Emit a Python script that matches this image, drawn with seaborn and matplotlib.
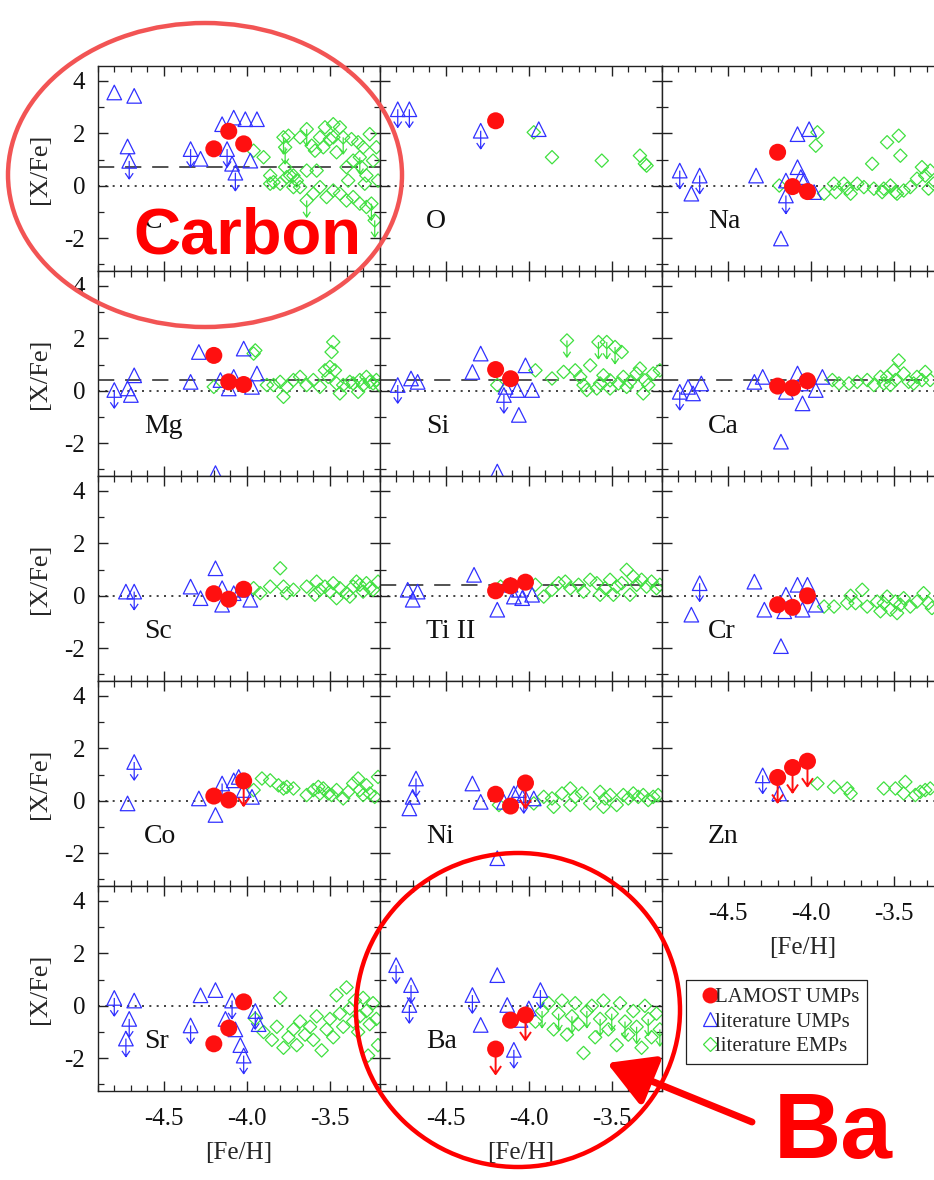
import matplotlib
matplotlib.use("Agg")
import matplotlib.pyplot as plt
import seaborn as sns
import pandas as pd
from matplotlib.path import Path
from matplotlib.patches import Ellipse, FancyArrowPatch
from matplotlib.lines import Line2D
from matplotlib.ticker import MultipleLocator

# ---------------------------------------------------------------------------
# Data: [Fe/H] of the three LAMOST UMP stars and [X/Fe] per element
# tuples are (xfe, upper_limit) for LAMOST, (feh, xfe, upper_limit) otherwise
# ---------------------------------------------------------------------------
LAMOST_FEH = [-4.20, -4.11, -4.02]

C_LAMOST = [(1.41, 0), (2.08, 0), (1.60, 0)]
C_UMP = [(-4.80, 3.56, 0), (-4.68, 3.43, 0), (-4.72, 1.50, 0), (-4.71, 0.95, 1),
         (-4.34, 1.40, 1), (-4.28, 1.03, 0), (-4.15, 2.35, 0), (-4.08, 2.60, 0),
         (-4.01, 2.54, 0), (-3.94, 2.54, 0), (-4.12, 1.40, 1), (-4.09, 0.84, 0),
         (-4.07, 0.50, 1), (-3.98, 0.96, 0)]
C_EMP = [(-3.96, 1.34, 0), (-3.90, 1.09, 0), (-3.86, 0.39, 0), (-3.84, 0.14, 0),
         (-3.78, 1.85, 1), (-3.77, 1.47, 1), (-3.75, 1.91, 0), (-3.77, 0.71, 0),
         (-3.74, 0.39, 0), (-3.72, 0.39, 0), (-3.70, 0.20, 0), (-3.68, 1.85, 0),
         (-3.64, 2.16, 1), (-3.64, 0.58, 0), (-3.61, 1.53, 0), (-3.59, 1.34, 0),
         (-3.58, 0.58, 0), (-3.56, 1.85, 0), (-3.54, 1.47, 0), (-3.53, 2.23, 0),
         (-3.50, 1.78, 0), (-3.48, 2.35, 0), (-3.48, 1.85, 0), (-3.46, 1.28, 0),
         (-3.44, 2.23, 0), (-3.42, 1.85, 1), (-3.40, 0.71, 0), (-3.39, 0.20, 0),
         (-3.37, 1.78, 0), (-3.36, 0.96, 0), (-3.33, 1.66, 0), (-3.32, 1.09, 1),
         (-3.31, 0.71, 0), (-3.30, 1.47, 0), (-3.29, 0.08, 0), (-3.28, 0.39, 0),
         (-3.26, 1.97, 0), (-3.25, -0.68, 1), (-3.24, 0.96, 0), (-3.22, 1.47, 0),
         (-3.21, 0.20, 0), (-3.48, -0.18, 0), (-3.52, -0.43, 0), (-3.56, -0.05, 0),
         (-3.60, -0.30, 0), (-3.64, -0.56, 1), (-3.68, -0.05, 0), (-3.72, -0.05, 0),
         (-3.76, 0.33, 0), (-3.80, 0.08, 0), (-3.86, 0.08, 0), (-3.44, -0.30, 0),
         (-3.40, -0.56, 0), (-3.36, -0.43, 0), (-3.32, -0.68, 0), (-3.28, -0.81, 0),
         (-3.23, -1.32, 1)]

O_LAMOST = [(2.48, 0), None, None]
O_UMP = [(-4.79, 2.92, 1), (-4.72, 2.92, 1), (-4.29, 2.10, 1), (-3.94, 2.16, 0)]
O_EMP = [(-3.97, 2.04, 0), (-3.86, 1.09, 0), (-3.56, 0.96, 0), (-3.33, 1.15, 0),
         (-3.30, 0.84, 0), (-3.29, 0.77, 0)]

Na_LAMOST = [(1.28, 0), (-0.03, 0), (-0.22, 0)]
Na_UMP = [(-4.79, 0.58, 1), (-4.67, 0.39, 1), (-4.72, -0.30, 0), (-4.33, 0.39, 0),
          (-4.18, -2.01, 0), (-4.15, -0.37, 1), (-4.15, 0.20, 0), (-4.08, 1.97, 0),
          (-4.01, 2.16, 0), (-4.08, 0.71, 0), (-4.06, 0.33, 0), (-3.98, -0.24, 0),
          (-4.04, 0.20, 0)]
Na_EMP = [(-4.19, 0.01, 0), (-3.96, 2.04, 0), (-3.97, 1.53, 0), (-3.92, -0.30, 0),
          (-3.86, 0.08, 0), (-3.85, -0.24, 0), (-3.80, 0.08, 0), (-3.78, -0.11, 0),
          (-3.76, -0.30, 0), (-3.72, 0.08, 0), (-3.68, -0.05, 0), (-3.63, 0.84, 0),
          (-3.62, -0.11, 0), (-3.57, -0.24, 0), (-3.56, -0.11, 0), (-3.54, 1.66, 0),
          (-3.52, 0.01, 0), (-3.49, -0.24, 0), (-3.48, -0.30, 0), (-3.47, 1.91, 0),
          (-3.46, 1.15, 0), (-3.44, -0.18, 0), (-3.40, -0.05, 0), (-3.36, 0.27, 0),
          (-3.33, 0.71, 0), (-3.31, 0.39, 0), (-3.29, -0.11, 0), (-3.28, 0.58, 0),
          (-3.26, 0.08, 0)]

Mg_LAMOST = [(1.35, 0), (0.34, 0), (0.24, 0)]
Mg_UMP = [(-4.80, 0.03, 1), (-4.72, 0.09, 0), (-4.70, -0.16, 0), (-4.68, 0.59, 0),
          (-4.34, 0.34, 0), (-4.29, 1.48, 0), (-4.19, -3.14, 0), (-4.16, 0.41, 0),
          (-4.11, 0.09, 0), (-4.08, 0.53, 0), (-4.02, 1.61, 0), (-3.97, 0.15, 0),
          (-3.94, 0.66, 0)]
Mg_EMP = [(-4.20, 0.15, 0), (-3.96, 1.42, 0), (-3.95, 1.54, 0), (-3.88, 0.22, 0),
          (-3.84, 0.22, 0), (-3.80, 0.34, 0), (-3.78, -0.23, 0), (-3.76, 0.15, 0),
          (-3.72, 0.41, 0), (-3.68, 0.53, 0), (-3.64, 0.22, 0), (-3.60, 0.41, 0),
          (-3.56, 0.15, 0), (-3.53, 0.78, 0), (-3.51, 0.53, 0), (-3.50, 0.91, 0),
          (-3.49, 1.48, 0), (-3.48, 1.86, 0), (-3.47, 0.78, 0), (-3.46, 0.28, 0),
          (-3.44, -0.10, 0), (-3.42, 0.22, 0), (-3.38, 0.34, 0), (-3.36, 0.28, 0),
          (-3.33, -0.04, 0), (-3.32, 0.41, 0), (-3.30, 0.22, 0), (-3.28, 0.53, 0),
          (-3.26, 0.34, 0), (-3.24, 0.28, 0), (-3.22, 0.41, 0), (-3.20, 0.22, 0)]

Si_LAMOST = [(0.81, 0), (0.46, 0), None]
Si_UMP = [(-4.79, 0.22, 1), (-4.71, 0.47, 0), (-4.67, 0.34, 0), (-4.34, 0.72, 0),
          (-4.29, 1.42, 0), (-4.19, -3.08, 0), (-4.15, -0.16, 1), (-4.14, 0.15, 0),
          (-4.06, -0.92, 0), (-4.07, 0.03, 0), (-4.02, 0.97, 0), (-3.98, 0.03, 0)]
Si_EMP = [(-4.19, 0.22, 0), (-3.96, 0.78, 0), (-3.86, 0.47, 0), (-3.79, 0.72, 0),
          (-3.77, 1.92, 1), (-3.72, 0.78, 0), (-3.69, 0.53, 0), (-3.67, 0.22, 0),
          (-3.63, 0.97, 0), (-3.58, 1.86, 1), (-3.53, 1.86, 1), (-3.48, 1.67, 1),
          (-3.44, 1.48, 0), (-3.57, 0.28, 0), (-3.55, 0.59, 0), (-3.51, 0.40, 0),
          (-3.46, 0.28, 0), (-3.43, 0.53, 0), (-3.39, 0.34, 0), (-3.35, 0.66, 0),
          (-3.33, 0.85, 0), (-3.30, 0.40, 0), (-3.28, 0.22, 0), (-3.25, 0.66, 0),
          (-3.21, 0.78, 0), (-3.65, 0.03, 0), (-3.59, 0.09, 0), (-3.51, 0.09, 0),
          (-3.41, 0.15, 0), (-3.31, -0.10, 0)]

Ca_LAMOST = [(0.18, 0), (0.11, 0), (0.38, 0)]
Ca_UMP = [(-4.79, -0.04, 1), (-4.74, 0.15, 0), (-4.71, -0.10, 0), (-4.66, 0.28, 0),
          (-4.34, 0.34, 0), (-4.29, 0.53, 0), (-4.18, -1.94, 0), (-4.15, -0.04, 0),
          (-4.08, 0.66, 0), (-4.05, -0.48, 0), (-3.97, 0.03, 0), (-3.93, 0.53, 0),
          (-4.06, 0.28, 0)]
Ca_EMP = [(-3.87, 0.41, 0), (-3.83, 0.28, 0), (-3.77, 0.28, 0), (-3.72, 0.34, 0),
          (-3.66, 0.41, 0), (-3.62, 0.22, 0), (-3.58, 0.53, 0), (-3.54, 0.53, 0),
          (-3.52, 0.22, 0), (-3.49, 0.41, 0), (-3.47, 1.16, 0), (-3.44, 0.66, 0),
          (-3.41, 0.34, 0), (-3.38, 0.28, 0), (-3.36, 0.53, 0), (-3.33, 0.41, 0),
          (-3.31, 0.72, 0), (-3.28, 0.41, 0), (-3.56, 0.28, 0), (-3.50, 0.78, 0)]

Sc_LAMOST = [(0.08, 0), (-0.13, 0), (0.25, 0)]
Sc_UMP = [(-4.73, 0.16, 0), (-4.68, 0.16, 1), (-4.34, 0.35, 0), (-4.28, -0.09, 0),
          (-4.19, 1.05, 0), (-4.15, 0.29, 0), (-4.15, -0.34, 0), (-4.08, 0.10, 0),
          (-4.04, 0.23, 0), (-3.98, -0.15, 0)]
Sc_EMP = [(-3.96, 0.29, 0), (-3.92, 0.10, 0), (-3.86, 0.35, 0), (-3.80, 1.05, 0),
          (-3.78, 0.35, 0), (-3.76, 0.10, 0), (-3.72, 0.23, 0), (-3.64, 0.35, 0),
          (-3.58, 0.54, 0), (-3.56, 0.23, 0), (-3.53, 0.35, 0), (-3.50, 0.16, 0),
          (-3.48, 0.48, 0), (-3.44, 0.29, 0), (-3.40, 0.10, 0), (-3.36, 0.35, 0),
          (-3.34, 0.54, 0), (-3.32, 0.42, 0), (-3.30, 0.16, 0), (-3.28, 0.48, 0),
          (-3.26, 0.29, 0), (-3.24, 0.23, 0), (-3.21, 0.54, 0), (-3.59, 0.04, 0),
          (-3.46, -0.09, 0), (-3.38, -0.03, 0)]

Ti_LAMOST = [(0.19, 0), (0.38, 0), (0.52, 0)]
Ti_UMP = [(-4.73, 0.23, 0), (-4.70, -0.15, 0), (-4.67, 0.16, 0), (-4.33, 0.80, 0),
          (-4.19, -0.53, 0), (-4.11, 0.42, 0), (-4.09, -0.03, 0), (-4.04, -0.09, 0),
          (-4.06, 0.23, 0), (-3.98, 0.04, 0)]
Ti_EMP = [(-4.17, 0.35, 0), (-3.96, 0.42, 0), (-3.91, -0.03, 0), (-3.86, 0.23, 0),
          (-3.82, 0.48, 0), (-3.78, 0.54, 0), (-3.75, 0.29, 0), (-3.70, 0.42, 0),
          (-3.67, 0.16, 0), (-3.63, 0.61, 0), (-3.59, 0.48, 0), (-3.57, 0.04, 0),
          (-3.54, 0.29, 0), (-3.51, 0.61, 0), (-3.47, 0.35, 0), (-3.44, 0.48, 0),
          (-3.41, 0.99, 0), (-3.37, 0.73, 0), (-3.35, 0.42, 0), (-3.32, 0.61, 0),
          (-3.29, 0.35, 0), (-3.26, 0.54, 0), (-3.23, 0.29, 0), (-3.21, 0.42, 0),
          (-3.49, 0.04, 0), (-3.39, 0.04, 0)]

Cr_LAMOST = [(-0.34, 0), (-0.44, 0), (0.00, 0)]
Cr_UMP = [(-4.72, -0.72, 0), (-4.67, 0.48, 1), (-4.34, 0.54, 0), (-4.28, -0.53, 0),
          (-4.18, -1.92, 0), (-4.15, 0.04, 0), (-4.08, 0.42, 0), (-4.02, 0.42, 0),
          (-4.16, -0.59, 0), (-4.05, -0.53, 0), (-3.97, -0.34, 0)]
Cr_EMP = [(-3.92, -0.41, 0), (-3.86, -0.41, 0), (-3.78, -0.28, 0), (-3.76, 0.00, 0),
          (-3.73, -0.28, 0), (-3.69, 0.23, 0), (-3.66, -0.41, 0), (-3.60, -0.22, 0),
          (-3.56, -0.28, 0), (-3.54, -0.03, 0), (-3.52, -0.53, 0), (-3.49, -0.22, 0),
          (-3.46, -0.34, 0), (-3.44, -0.09, 0), (-3.40, -0.41, 0), (-3.36, -0.22, 0),
          (-3.32, 0.10, 0), (-3.29, -0.28, 0), (-3.27, -0.47, 0), (-3.58, -0.59, 0),
          (-3.48, -0.66, 0)]

Co_LAMOST = [(0.18, 0), (0.03, 0), (0.76, 1)]
Co_UMP = [(-4.72, -0.10, 0), (-4.68, 1.48, 1), (-4.29, 0.09, 0), (-4.19, -0.54, 0),
          (-4.15, 0.66, 1), (-4.08, 0.78, 0), (-4.05, 0.91, 0), (-4.02, 0.41, 0),
          (-3.97, 0.15, 0)]
Co_EMP = [(-3.96, 0.41, 0), (-3.91, 0.85, 0), (-3.86, 0.78, 0), (-3.81, 0.59, 0),
          (-3.78, 0.47, 0), (-3.76, 0.53, 0), (-3.72, 0.47, 0), (-3.64, 0.22, 0),
          (-3.60, 0.41, 0), (-3.57, 0.53, 0), (-3.56, 0.28, 0), (-3.54, 0.47, 0),
          (-3.51, 0.28, 0), (-3.49, 0.22, 0), (-3.46, 0.41, 0), (-3.42, 0.09, 0),
          (-3.39, 0.34, 0), (-3.36, 0.66, 0), (-3.33, 0.85, 0), (-3.32, 0.41, 0),
          (-3.30, 0.22, 0), (-3.28, 0.59, 0), (-3.26, 0.28, 0), (-3.23, 0.15, 0),
          (-3.21, 0.91, 0)]

Ni_LAMOST = [(0.25, 0), (-0.20, 0), (0.68, 1)]
Ni_UMP = [(-4.72, -0.29, 0), (-4.70, 0.15, 0), (-4.68, 0.85, 1), (-4.34, 0.66, 0),
          (-4.29, -0.04, 0), (-4.19, -2.19, 0), (-4.15, -0.04, 0), (-4.09, 0.28, 0),
          (-4.06, 0.41, 0), (-4.03, 0.22, 1), (-3.97, 0.09, 0)]
Ni_EMP = [(-4.18, -0.16, 0), (-3.97, -0.10, 0), (-3.91, 0.15, 0), (-3.86, 0.09, 0),
          (-3.80, 0.28, 0), (-3.75, 0.47, 0), (-3.72, 0.15, 0), (-3.68, 0.28, 0),
          (-3.63, -0.10, 0), (-3.57, 0.34, 0), (-3.54, 0.09, 0), (-3.51, 0.22, 0),
          (-3.47, -0.16, 0), (-3.43, 0.22, 0), (-3.40, 0.09, 0), (-3.37, 0.28, 0),
          (-3.34, 0.15, 0), (-3.31, 0.22, 0), (-3.28, 0.03, 0), (-3.25, 0.15, 0),
          (-3.22, 0.22, 0), (-3.85, -0.23, 0), (-3.75, -0.16, 0), (-3.55, -0.23, 0)]

Zn_LAMOST = [(0.89, 1), (1.27, 1), (1.51, 1)]
Zn_UMP = [(-4.29, 0.97, 1), (-4.19, 0.28, 0)]
Zn_EMP = [(-3.96, 0.66, 0), (-3.86, 0.53, 0), (-3.78, 0.47, 0), (-3.76, 0.28, 0),
          (-3.56, 0.47, 0), (-3.49, 0.47, 0), (-3.43, 0.72, 0), (-3.44, 0.28, 0),
          (-3.37, 0.22, 0), (-3.34, 0.34, 0), (-3.31, 0.41, 0), (-3.28, 0.47, 0)]

Sr_LAMOST = [(-1.45, 0), (-0.85, 0), (0.15, 0)]
Sr_UMP = [(-4.80, 0.30, 1), (-4.71, -0.50, 1), (-4.73, -1.25, 1), (-4.68, 0.20, 0),
          (-4.34, -0.75, 1), (-4.28, 0.40, 0), (-4.19, 0.60, 0), (-4.09, 0.20, 1),
          (-4.07, -0.90, 0), (-4.04, -1.50, 0), (-4.02, -1.90, 1), (-3.95, -0.20, 1),
          (-3.93, -0.70, 0), (-4.13, -0.50, 0)]
Sr_EMP = [(-3.95, -0.50, 0), (-3.90, -1.00, 0), (-3.85, -1.30, 0), (-3.82, -0.80, 0),
          (-3.80, 0.30, 0), (-3.78, -1.60, 0), (-3.75, -1.20, 0), (-3.72, -0.90, 0),
          (-3.70, -1.50, 0), (-3.68, -0.60, 0), (-3.65, -1.10, 0), (-3.62, -0.80, 0),
          (-3.60, -1.30, 0), (-3.58, -0.40, 0), (-3.55, -1.70, 0), (-3.52, -0.90, 0),
          (-3.50, -0.50, 0), (-3.48, -1.20, 0), (-3.46, 0.40, 0), (-3.44, -0.30, 0),
          (-3.42, -0.80, 0), (-3.40, 0.70, 0), (-3.38, -0.10, 0), (-3.36, -0.60, 0),
          (-3.35, 0.20, 0), (-3.33, -1.00, 0), (-3.32, -0.40, 0), (-3.30, 0.30, 0),
          (-3.28, -0.20, 0), (-3.27, -1.90, 0), (-3.26, -0.70, 0), (-3.24, 0.10, 0),
          (-3.22, -0.50, 0), (-3.21, -1.50, 0)]

Ba_LAMOST = [(-1.65, 1), (-0.55, 0), (-0.35, 1)]
Ba_UMP = [(-4.80, 1.55, 1), (-4.71, 0.79, 1), (-4.72, 0.03, 1), (-4.34, 0.41, 1),
          (-4.29, -0.73, 0), (-4.19, 1.17, 0), (-4.13, 0.03, 0), (-4.09, -1.68, 1),
          (-4.05, -0.54, 0), (-3.93, 0.60, 1), (-4.00, -0.10, 0)]
Ba_EMP = [(-3.96, -0.60, 0), (-3.92, -0.20, 1), (-3.88, 0.10, 0), (-3.85, -0.90, 0),
          (-3.82, -0.30, 1), (-3.80, 0.20, 0), (-3.77, -1.10, 0), (-3.74, -0.40, 1),
          (-3.72, 0.10, 0), (-3.70, -0.70, 0), (-3.67, -1.80, 0), (-3.65, -0.20, 1),
          (-3.62, 0.00, 0), (-3.60, -1.20, 0), (-3.57, -0.50, 1), (-3.55, 0.20, 0),
          (-3.52, -0.90, 0), (-3.50, -0.30, 1), (-3.47, -1.50, 0), (-3.45, 0.10, 0),
          (-3.42, -0.60, 1), (-3.40, -1.10, 0), (-3.37, -0.20, 0), (-3.35, -0.80, 1),
          (-3.32, -1.60, 0), (-3.30, 0.00, 0), (-3.28, -0.50, 1), (-3.26, -1.20, 0),
          (-3.23, -0.30, 0), (-3.21, -0.90, 1)]

# panel grid: (label, LAMOST, literature UMPs, literature EMPs, dashed level)
GRID = [
    [("C", C_LAMOST, C_UMP, C_EMP, 0.7), ("O", O_LAMOST, O_UMP, O_EMP, None),
     ("Na", Na_LAMOST, Na_UMP, Na_EMP, None)],
    [("Mg", Mg_LAMOST, Mg_UMP, Mg_EMP, 0.4), ("Si", Si_LAMOST, Si_UMP, Si_EMP, 0.4),
     ("Ca", Ca_LAMOST, Ca_UMP, Ca_EMP, 0.4)],
    [("Sc", Sc_LAMOST, Sc_UMP, Sc_EMP, None), ("Ti II", Ti_LAMOST, Ti_UMP, Ti_EMP, 0.4),
     ("Cr", Cr_LAMOST, Cr_UMP, Cr_EMP, None)],
    [("Co", Co_LAMOST, Co_UMP, Co_EMP, None), ("Ni", Ni_LAMOST, Ni_UMP, Ni_EMP, None),
     ("Zn", Zn_LAMOST, Zn_UMP, Zn_EMP, None)],
    [("Sr", Sr_LAMOST, Sr_UMP, Sr_EMP, None), ("Ba", Ba_LAMOST, Ba_UMP, Ba_EMP, None),
     None],
]

RED = "#ff1010"
BLUE = "#3030ff"
GREEN = "#40e040"

# ---------------------------------------------------------------------------
sns.set_theme(style="ticks")
plt.rcParams["font.family"] = ["Liberation Serif", "DejaVu Serif"]
plt.rcParams["axes.unicode_minus"] = False
plt.rcParams["axes.linewidth"] = 1.0
plt.rcParams["axes.edgecolor"] = "#222222"

W, H = 934, 1180
fig = plt.figure(figsize=(W / 100, H / 100), dpi=100)

COL_X = [97.7, 379.5, 661.5]
COL_W = 282.0
ROW_Y = [66.0, 271.0, 476.0, 681.0, 886.0]
ROW_H = 205.0

# downward arrow used to flag upper limits
ARROW = Path([(0, 0), (0, -1), (-0.22, -0.68), (0, -1), (0.22, -0.68)],
             [Path.MOVETO, Path.LINETO, Path.MOVETO, Path.LINETO, Path.LINETO])


def add_axes_px(x0, y0, w, h):
    return fig.add_axes([x0 / W, 1 - (y0 + h) / H, w / W, h / H])


def limit_arrows(ax, df, color, size, lw):
    lim = df[df["lim"] == 1]
    if len(lim):
        ax.scatter(lim["feh"], lim["xfe"], marker=ARROW, s=size ** 2,
                   facecolors="none", edgecolors=color, linewidths=lw, zorder=3)


def draw_panel(ax, label, lamost, ump, emp, dashed):
    ax.set_xlim(-4.9, -3.2)
    ax.set_ylim(-3.25, 4.57)
    ax.axhline(0, color="#222222", ls=(0, (1.2, 3.2)), lw=1.2, zorder=1)
    if dashed is not None:
        ax.axhline(dashed, color="#444444", ls=(0, (9, 6)), lw=1.3, zorder=1)

    emp_df = pd.DataFrame(emp, columns=["feh", "xfe", "lim"])
    ump_df = pd.DataFrame(ump, columns=["feh", "xfe", "lim"])
    lam_rows = [(f, v[0], v[1]) for f, v in zip(LAMOST_FEH, lamost) if v is not None]
    lam_df = pd.DataFrame(lam_rows, columns=["feh", "xfe", "lim"])

    sns.scatterplot(data=emp_df, x="feh", y="xfe", ax=ax, marker="D", s=46,
                    facecolor="none", edgecolor=GREEN, linewidth=0.9, zorder=2,
                    legend=False)
    limit_arrows(ax, emp_df, GREEN, 24, 0.9)
    sns.scatterplot(data=ump_df, x="feh", y="xfe", ax=ax, marker="^", s=110,
                    facecolor="none", edgecolor=BLUE, linewidth=0.9, zorder=3,
                    legend=False)
    limit_arrows(ax, ump_df, BLUE, 26, 0.9)
    limit_arrows(ax, lam_df, RED, 36, 1.4)
    sns.scatterplot(data=lam_df, x="feh", y="xfe", ax=ax, marker="o", s=150,
                    color=RED, edgecolor="none", linewidth=0, zorder=4, legend=False)

    ax.text(-4.62, -1.35, label, fontsize=20, ha="left", va="center",
            color="#111111", zorder=5)


def style_axes(ax, xlabels, ylabels):
    ax.xaxis.set_major_locator(MultipleLocator(0.5))
    ax.xaxis.set_minor_locator(MultipleLocator(0.1))
    ax.yaxis.set_major_locator(MultipleLocator(2))
    ax.yaxis.set_minor_locator(MultipleLocator(1))
    ax.tick_params(which="both", direction="in", top=True, right=True,
                   color="#222222", labelsize=18, labelcolor="#111111")
    ax.tick_params(which="major", length=7, width=1.0)
    ax.tick_params(which="minor", length=4, width=0.9)
    ax.tick_params(axis="x", which="major", pad=12)
    ax.tick_params(axis="y", which="major", pad=9)
    ax.set_xlabel("")
    ax.set_ylabel("")
    if xlabels:
        ax.set_xticks([-4.5, -4.0, -3.5])
        ax.set_xticklabels(["-4.5", "-4.0", "-3.5"])
        ax.set_xlabel("[Fe/H]", fontsize=18, labelpad=9)
    else:
        ax.tick_params(labelbottom=False)
    if ylabels:
        ax.set_yticks([-2, 0, 2, 4])
        ax.set_yticklabels(["-2", "0", "2", "4"])
        ax.set_ylabel("[X/Fe]", fontsize=19, labelpad=10)
    else:
        ax.tick_params(labelleft=False)


for r, row in enumerate(GRID):
    for c, panel in enumerate(row):
        if panel is None:
            continue
        ax = add_axes_px(COL_X[c], ROW_Y[r], COL_W, ROW_H)
        draw_panel(ax, *panel)
        show_x = (r == 4) or (r == 3 and c == 2)
        style_axes(ax, show_x, c == 0)

# legend in the empty lower-right slot; markers sit over the first letter
handles = [
    Line2D([], [], ls="none", marker="o", ms=11.5, mfc=RED, mec="none"),
    Line2D([], [], ls="none", marker="^", ms=10, mfc="none", mec=BLUE, mew=0.9),
    Line2D([], [], ls="none", marker="D", ms=7, mfc="none", mec=GREEN, mew=0.9),
]
leg = fig.legend(handles, ["LAMOST UMPs", "literature UMPs", "literature EMPs"],
                 loc="upper left", bbox_to_anchor=(686 / W, 1 - 980 / H),
                 fontsize=15, frameon=True, fancybox=False, edgecolor="#222222",
                 framealpha=1, borderpad=0.35, handletextpad=-0.55,
                 handlelength=1.6, labelspacing=0.25, borderaxespad=0)
leg.get_frame().set_linewidth(0.9)
for h in leg.legend_handles:
    h.set_zorder(5)

# highlight annotations
SANS = ["Liberation Sans", "DejaVu Sans"]
fig.add_artist(Ellipse((205 / W, 1 - 175 / H), 394 / W, 304 / H,
                       transform=fig.transFigure, fill=False,
                       edgecolor="#f25454", lw=3.2, zorder=20))
fig.text(247 / W, 1 - 253 / H, "Carbon", fontsize=47, fontweight="bold",
         family=SANS, color="#ff0000", ha="center", va="baseline", zorder=21)

fig.add_artist(Ellipse((518 / W, 1 - 1010 / H), 324 / W, 314 / H,
                       transform=fig.transFigure, fill=False,
                       edgecolor="#ff0000", lw=3.2, zorder=20))
fig.add_artist(FancyArrowPatch((752 / W, 1 - 1122 / H), (607 / W, 1 - 1063 / H),
                               transform=fig.transFigure,
                               arrowstyle="-|>,head_length=1.4,head_width=0.8",
                               mutation_scale=20, lw=5, color="#ff0000",
                               shrinkA=0, shrinkB=0, zorder=21))
fig.text(833 / W, 1 - 1158 / H, "Ba", fontsize=67, fontweight="bold",
         family=SANS, color="#ff0000", ha="center", va="baseline", zorder=21)

fig.savefig("out.png", dpi=100, facecolor="white")
